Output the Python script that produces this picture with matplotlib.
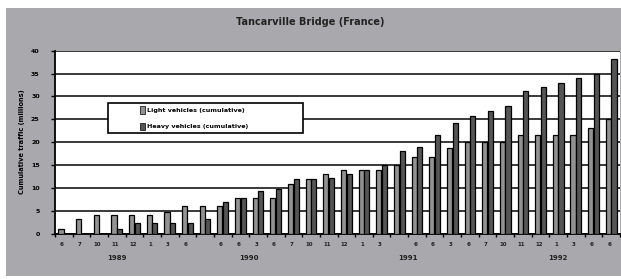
import matplotlib

matplotlib.use("Agg")
import matplotlib.pyplot as plt
from matplotlib.patches import Rectangle
import numpy as np

TITLE = "Tancarville Bridge (France)"
YLABEL = "Cumulative traffic (millions)"
SERIES = ["Light vehicles (cumulative)", "Heavy vehicles (cumulative)"]

# one category per sampling date
light = [0.9, 3.1, 4.0, 4.0, 4.0, 4.0, 4.8, 6.0, 6.0, 6.0, 7.7, 7.7, 7.7, 10.8, 12.0, 13.0,
         13.8, 13.8, 13.8, 15.0, 16.7, 16.7, 18.8, 20.0, 20.0, 20.0, 21.5, 21.5, 21.5, 21.5, 23.0, 25.0]
heavy = [0.0, 0.0, 0.0, 0.9, 2.2, 2.2, 2.2, 2.2, 3.1, 6.8, 7.7, 9.2, 9.8, 12.0, 12.0, 12.2,
         13.0, 13.8, 15.0, 18.0, 19.0, 21.5, 24.2, 25.8, 26.7, 27.9, 31.2, 32.0, 33.0, 34.1, 34.9, 38.2]
months = ["6", "7", "10", "11", "12", "1", "3", "6", "", "6", "6", "3", "6", "7", "10", "11",
          "12", "1", "3", "", "6", "6", "3", "6", "7", "10", "11", "12", "1", "3", "6", "6"]
years = ["1989", "1990", "1991", "1992"]
year_spans = [(0, 6), (7, 14), (15, 24), (25, 31)]
yticks = [0, 5, 10, 15, 20, 25, 30, 35, 40]

BG = "#a9a9ad"
C_LIGHT = "#929292"
C_HEAVY = "#555555"

fig = plt.figure(figsize=(6.21, 2.79), dpi=100, facecolor="white")
fig.patches.append(Rectangle((6 / 621, 3 / 279), 615 / 621, 268 / 279, transform=fig.transFigure,
                             facecolor=BG, edgecolor="none", zorder=-1))

ax = fig.add_axes([55 / 621, 45.5 / 279, 565 / 621, 182.8 / 279])
ax.set_zorder(2)
ax.set_facecolor("white")
x = np.arange(len(light))
w = 0.29
ax.bar(x - 0.16, light, w, color=C_LIGHT, edgecolor="black", lw=0.9, zorder=3)
ax.bar(x + 0.16, heavy, w, color=C_HEAVY, edgecolor="black", lw=0.9, zorder=3)

ax.set_xlim(-0.5, len(light) - 0.5)
ax.set_ylim(0, 40)
ax.set_yticks(yticks)
ax.set_yticklabels([str(v) for v in yticks], fontsize=4.5, fontweight="bold")
ax.yaxis.grid(True, color="#2a2a2a", lw=1.3, zorder=1)
ax.set_axisbelow(True)
ax.spines[["top", "right"]].set_visible(False)
ax.spines["left"].set_linewidth(1.3)
ax.spines["bottom"].set_linewidth(1.3)
ax.tick_params(axis="y", length=3, width=1, pad=8)

# ticks between categories, labels under each one
ax.set_xticks(np.arange(len(light) + 1) - 0.5)
ax.set_xticklabels([])
ax.tick_params(axis="x", length=2.5, width=1)
for i, m in enumerate(months):
    ax.text(i - 0.1, -1.8, m, ha="center", va="top", fontsize=4, fontweight="bold", color="#222")
for yr, (a, b) in zip(years, year_spans):
    ax.text((a + b) / 2, -4.6, yr, ha="center", va="top", fontsize=5, fontweight="bold", color="#222")

ax.set_ylabel(YLABEL, fontsize=4.8, fontweight="bold", labelpad=4)

# legend box drawn like the spreadsheet one
ax.add_patch(Rectangle((0.094, 0.55), 0.345, 0.164, transform=ax.transAxes,
                       facecolor="white", edgecolor="black", lw=1.2, zorder=5))
for k, (name, col) in enumerate(zip(SERIES, [C_LIGHT, C_HEAVY])):
    yy = 0.675 - k * 0.09
    ax.add_patch(Rectangle((0.151, yy - 0.02), 0.008, 0.04, transform=ax.transAxes,
                           facecolor=col, edgecolor="black", lw=0.5, zorder=6))
    ax.text(0.163, yy, name, transform=ax.transAxes, fontsize=4.6, fontweight="bold",
            va="center", ha="left", zorder=6)

fig.text(0.5, 1 - 22 / 279, TITLE, ha="center", va="center", fontsize=7, fontweight="bold", color="#222")

fig.savefig("out.png", dpi=100, facecolor="white")
